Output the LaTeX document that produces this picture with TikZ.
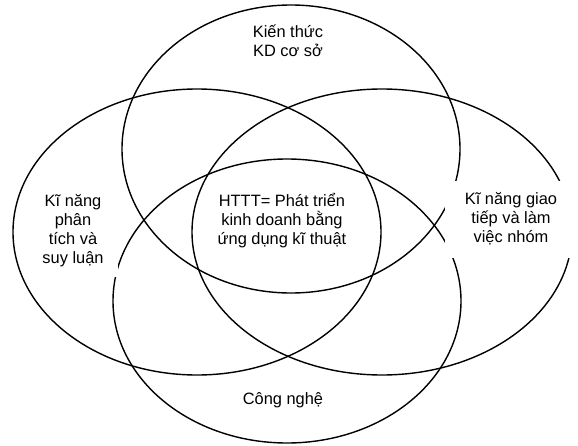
\documentclass[tikz,border=0pt]{standalone}
\usepackage{fontspec}
\setmainfont{Liberation Sans}
\usepackage{tikz}
\tikzset{venn/.style={line width=1.2pt},
    lbl/.style={align=center,inner sep=0pt,
        font=\fontsize{14}{16.2}\selectfont},
    mask/.style={lbl,fill=white}}

\begin{document}
\begin{tikzpicture}[x=0.03cm,y=-0.03cm]
\useasboundingbox (0,0) rectangle (578,446);
\coordinate (kd) at (291,149);
\coordinate (pt) at (197,232);
\coordinate (gt) at (382,232);
\coordinate (cn) at (287,301);
\draw[venn] (kd) ellipse [x radius=169,y radius=144];
\draw[venn] (pt) ellipse [x radius=184,y radius=143];
\draw[venn] (gt) ellipse [x radius=190,y radius=143];
\draw[venn] (cn) ellipse [x radius=174,y radius=142];
\node[lbl] (kienthuc) at (288,41) {Kiến thức\\KD cơ sở};
\node[lbl] (httt) at (282,221) {HTTT= Phát triển\\kinh doanh bằng\\ứng dụng kĩ thuật};
\node[mask,minimum width=2.7cm,minimum height=2.76cm] (phantich) at (73,231)
    {Kĩ năng\\phân\\tích và\\suy luận};
\node[mask,minimum width=3.93cm,minimum height=2.31cm] (giaotiep) at (511,219)
    {Kĩ năng giao\\tiếp và làm\\việc nhóm};
\node[lbl] (congnghe) at (283,400) {Công nghệ};
\end{tikzpicture}
\end{document}
